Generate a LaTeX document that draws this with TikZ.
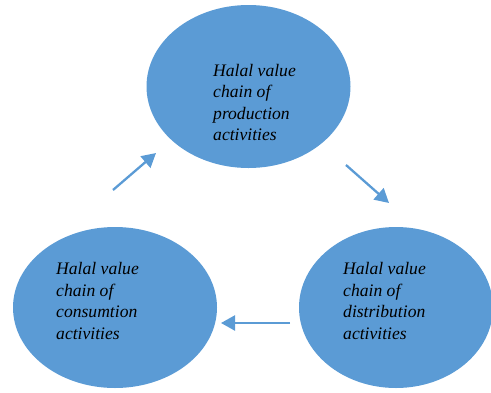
\documentclass[tikz,border=0pt]{standalone}
\usepackage{fontspec}
\setmainfont{Liberation Serif}
\usetikzlibrary{shapes.geometric,arrows.meta}
\definecolor{chainblue}{HTML}{5B9BD5}
\tikzset{
  chainoval/.style={ellipse, fill=chainblue, inner sep=0pt},
  chaintext/.style={align=left, anchor=west, inner sep=0pt,
    font=\fontsize{17.6}{21.5}\selectfont\itshape},
  flow/.style={draw=chainblue, line width=2.3pt, -{Triangle[length=14pt,width=15pt]}}
}
\begin{document}
\begin{tikzpicture}[x=1pt,y=-1pt]
      \useasboundingbox (0,0) rectangle (491,392);

      % Draw the three ovals
      \node[chainoval, minimum width=204pt, minimum height=163pt] (prod) at (248.5,86.5) {};
      \node[chainoval, minimum width=204pt, minimum height=161pt] (cons) at (115,307.5) {};
      \node[chainoval, minimum width=194pt, minimum height=161pt] (dist) at (396,307.5) {};

      % Put the texts in
      \node[chaintext] (prodtext) at (213,102.5) {Halal value\\chain of\\production\\activities};
      \node[chaintext] (constext) at (56,301) {Halal value\\chain of\\consumtion\\activities};
      \node[chaintext] (disttext) at (343,301) {Halal value\\chain of\\distribution\\activities};

      % Draw the arrows
      \coordinate (upfrom) at (113,190);
      \coordinate (upto) at (156,153);
      \coordinate (downfrom) at (346,165);
      \coordinate (downto) at (389,203);
      \coordinate (backfrom) at (290,323);
      \coordinate (backto) at (221,323);
      \draw[flow] (upfrom) -- (upto);
      \draw[flow] (downfrom) -- (downto);
      \draw[flow] (backfrom) -- (backto);
\end{tikzpicture}
\end{document}
